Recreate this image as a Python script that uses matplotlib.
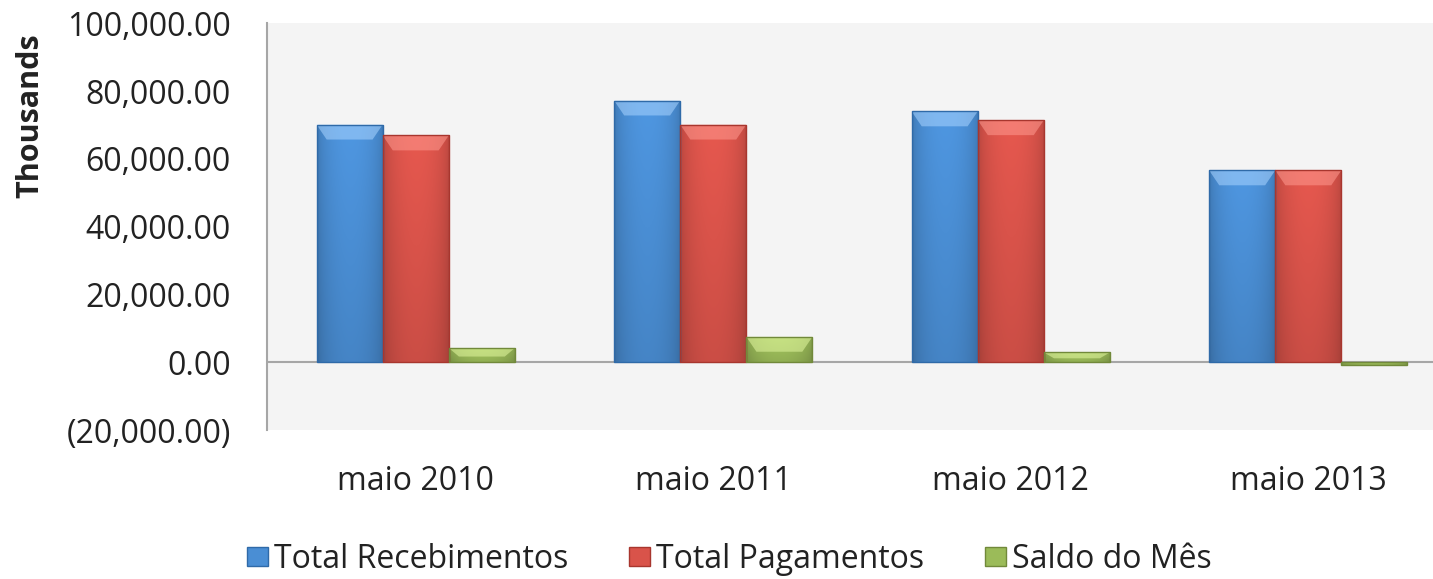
import numpy as np
import matplotlib.pyplot as plt
from matplotlib.patches import Polygon, Patch
from matplotlib.ticker import FuncFormatter
from matplotlib.colors import to_rgb

plt.rcParams['font.family'] = ['Open Sans', 'DejaVu Sans']

# values in thousands
categories = ['maio 2010', 'maio 2011', 'maio 2012', 'maio 2013']
recebimentos = [70100, 77200, 74000, 56600]
pagamentos = [66900, 70100, 71400, 56600]
saldo = [4200, 7500, 2900, -700]

series_names = ['Total Recebimentos', 'Total Pagamentos', 'Saldo do Mês']
base_colors = ['#4a8ed4', '#d9534a', '#9bbb59']
edge_colors = ['#2f6aa8', '#a8362e', '#71893a']
tops = ['#a9d4ff', '#ff9a90', '#e2f7a0']

fig = plt.figure(figsize=(14.33, 5.79), dpi=100)
ax = fig.add_axes([0.1863, 0.2573, 0.8305, 0.7025])
ax.set_facecolor('#f4f4f4')

x = np.arange(len(categories))
w = 1 / 4.5


def shade_bar(patch, color, top_light):
    # gradient fill clipped to the bar, roughly like the Excel bevel look
    x0, y0 = patch.get_x(), patch.get_y()
    bw, bh = patch.get_width(), patch.get_height()
    r, g, b = to_rgb(color)
    hx = np.linspace(0, 1, 40)
    fx = 0.82 + 0.22 * np.sin(np.pi * hx) ** 0.5
    vy = np.linspace(0, 1, 40)
    fy = 0.9 + 0.12 * vy
    f = np.outer(fy, fx)
    img = np.clip(np.dstack([r * f, g * f, b * f]), 0, 1)
    lo, hi = min(y0, y0 + bh), max(y0, y0 + bh)
    im = ax.imshow(img, extent=(x0, x0 + bw, lo, hi), origin='lower',
                   aspect='auto', zorder=2, interpolation='bilinear')
    im.set_clip_path(patch)
    if bh > 0:
        bev = min(4400, bh * 0.6)
        inset = 0.034
        pts = [(x0, hi), (x0 + bw, hi), (x0 + bw - inset, hi - bev), (x0 + inset, hi - bev)]
        ax.add_patch(Polygon(pts, closed=True, facecolor=top_light, edgecolor='none',
                             alpha=0.55, zorder=3))


for i, vals in enumerate([recebimentos, pagamentos, saldo]):
    bars = ax.bar(x - w + i * w, vals, width=w, facecolor='none',
                  edgecolor=edge_colors[i], linewidth=1.0, zorder=4,
                  label=series_names[i])
    for p in bars:
        shade_bar(p, base_colors[i], tops[i])

ax.axhline(0, color='#a6a6a6', linewidth=1.5, zorder=1)
ax.set_xlim(-0.5, 3.5)
ax.set_ylim(-20000, 100000)
ax.set_yticks(np.arange(-20000, 100001, 20000))
ax.yaxis.set_major_formatter(FuncFormatter(
    lambda v, p: f'({abs(v):,.2f})' if v < 0 else f'{v:,.2f}'))
ax.set_xticks(x)
ax.set_xticklabels(categories)
ax.tick_params(axis='y', length=0, pad=26, labelsize=23, labelcolor='#222222')
ax.tick_params(axis='x', length=0, pad=25, labelsize=23, labelcolor='#222222')

for s in ['top', 'right', 'bottom']:
    ax.spines[s].set_visible(False)
ax.spines['left'].set_color('#a6a6a6')
ax.spines['left'].set_linewidth(1.5)

fig.text(0.0213, 0.801, 'Thousands', rotation=90, ha='center', va='center',
         fontsize=22, fontweight='bold', color='#222222')

handles = [Patch(facecolor=base_colors[i], edgecolor=edge_colors[i]) for i in range(3)]
fig.legend(handles, series_names, loc='center', bbox_to_anchor=(0.509, 0.034), ncol=3,
           frameon=False, fontsize=23, handlelength=0.65, handleheight=0.57,
           handletextpad=0.2, columnspacing=1.9, labelcolor='#222222')

fig.savefig('out.png', dpi=100)
